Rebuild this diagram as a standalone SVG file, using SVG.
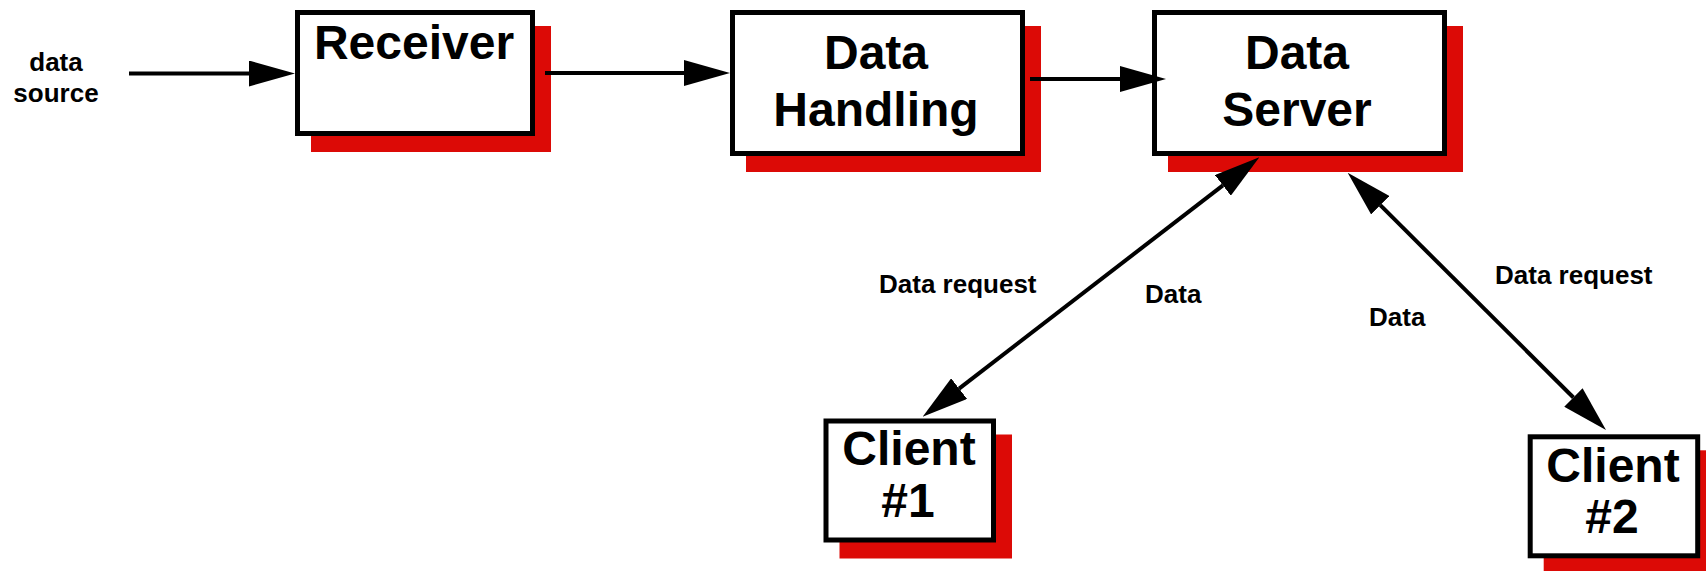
<svg xmlns="http://www.w3.org/2000/svg" width="1706" height="571" viewBox="0 0 1706 571">
<style>
.shadow{fill:#dc0a06;stroke:none}
.box{fill:#ffffff;stroke:#000000;stroke-width:5}
.big{font-family:"Liberation Sans",Arial,sans-serif;font-weight:bold;font-size:48px;fill:#000;text-anchor:middle}
.small{font-family:"Liberation Sans",Arial,sans-serif;font-weight:bold;font-size:26px;fill:#000}
.mid{text-anchor:middle}
.conn{fill:none;stroke:#000;stroke-width:4}
</style>
<defs>
<marker id="ah" viewBox="0 0 46 26" markerUnits="userSpaceOnUse" markerWidth="46" markerHeight="26" refX="0" refY="13" orient="auto-start-reverse">
<path d="M0,0 L46,13 L0,26 z" fill="#000"/>
</marker>
</defs>
<rect width="1706" height="571" fill="#ffffff"/>
<g id="data-source">
<text class="small mid" x="56" y="71">data</text>
<text class="small mid" x="56" y="102">source</text>
</g>
<g id="receiver">
<rect class="shadow" x="311" y="26" width="240" height="126"/>
<rect class="box" x="297.5" y="12.5" width="235" height="121"/>
<text class="big" x="414" y="59">Receiver</text>
</g>
<g id="data-handling">
<rect class="shadow" x="746" y="26" width="295" height="146"/>
<rect class="box" x="732.5" y="12.5" width="290" height="141"/>
<text class="big" x="876" y="69">Data</text>
<text class="big" x="876" y="126">Handling</text>
</g>
<g id="data-server">
<rect class="shadow" x="1168" y="26" width="295" height="146"/>
<rect class="box" x="1154.5" y="12.5" width="290" height="141"/>
<text class="big" x="1297" y="69">Data</text>
<text class="big" x="1297" y="126">Server</text>
</g>
<g id="client-1">
<rect class="shadow" x="839.5" y="434.5" width="172.5" height="124"/>
<rect class="box" x="826" y="421" width="167.5" height="119"/>
<text class="big" x="909" y="465">Client</text>
<text class="big" x="908" y="517">#1</text>
</g>
<g id="client-2">
<rect class="shadow" x="1543.7" y="450.3" width="172.5" height="124"/>
<rect class="box" x="1530.2" y="436.8" width="167.5" height="119"/>
<text class="big" x="1613" y="482">Client</text>
<text class="big" x="1612" y="533">#2</text>
</g>
<g id="connectors">
<path class="conn" d="M129,73.5 H249" marker-end="url(#ah)"/>
<path class="conn" d="M545,73 H684" marker-end="url(#ah)"/>
<path class="conn" d="M1030,79 H1120" marker-end="url(#ah)"/>
<path class="conn" d="M959.1,388.6 L1222.9,185.4" marker-start="url(#ah)" marker-end="url(#ah)"/>
<path class="conn" d="M1380.3,205.2 L1573.4,397.5" marker-start="url(#ah)" marker-end="url(#ah)"/>
<text class="small" x="879" y="292.7">Data request</text>
<text class="small" x="1145" y="302.7">Data</text>
<text class="small" x="1495" y="284.3">Data request</text>
<text class="small" x="1369" y="326">Data</text>
</g>
</svg>
